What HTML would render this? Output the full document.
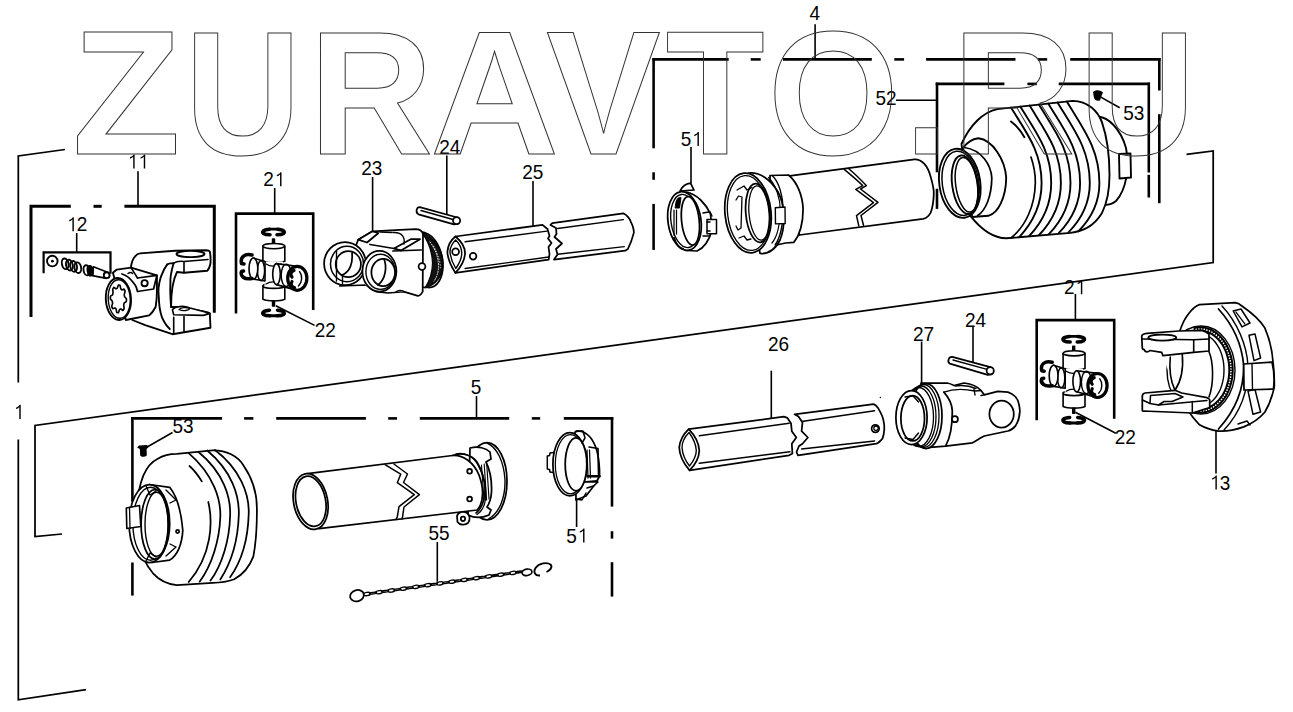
<!DOCTYPE html>
<html><head><meta charset="utf-8"><style>
html,body{margin:0;padding:0;background:#fff;width:1293px;height:712px;overflow:hidden}
svg{position:absolute;left:0;top:0;display:block}
.wm text{font-family:"Liberation Sans",sans-serif;font-weight:bold;font-size:176px;fill:none;stroke:#333;stroke-width:1}
.lb{font-family:"Liberation Sans",sans-serif;font-size:19px;fill:#000;text-anchor:start}
</style></head><body>
<svg width="1293" height="712" viewBox="0 0 1293 712">
<g fill="none" stroke="#000" stroke-width="1.75" stroke-linejoin="miter">
<polyline points="65,149.5 18.3,156 18.3,382.5"/>
<polyline points="18.3,439.5 18.3,699.8 86,689.7"/>
<polyline points="1186.5,154.4 1213.2,151 1213.2,262.6 35,425.5 35,536.5 62,534"/>
</g>
<g stroke="#000" stroke-width="2.6" fill="none" stroke-linecap="butt"><line x1="652.3" y1="59.4" x2="728.7" y2="59.4"/><line x1="750.7" y1="59.4" x2="760.7" y2="59.4"/><line x1="783.0" y1="59.4" x2="871.8" y2="59.4"/><line x1="894.3" y1="59.4" x2="904.1" y2="59.4"/><line x1="926.1" y1="59.4" x2="1015.5" y2="59.4"/><line x1="1037.8" y1="59.4" x2="1047.2" y2="59.4"/><line x1="1070.2" y1="59.4" x2="1160.6" y2="59.4"/><line x1="653.6" y1="58.1" x2="653.6" y2="148.3"/><line x1="653.6" y1="172.3" x2="653.6" y2="179.8"/><line x1="653.6" y1="203.9" x2="653.6" y2="249.9"/><line x1="1159.3" y1="58.1" x2="1159.3" y2="90.5"/><line x1="1159.3" y1="114.2" x2="1159.3" y2="203.2"/><line x1="935.7" y1="83.9" x2="1004.4" y2="83.9"/><line x1="1027.4" y1="83.9" x2="1036.8" y2="83.9"/><line x1="1058.7" y1="83.9" x2="1150.0" y2="83.9"/><line x1="937.0" y1="82.6" x2="937.0" y2="172.3"/><line x1="937.0" y1="188.7" x2="937.0" y2="208.9"/><line x1="1148.8" y1="82.6" x2="1148.8" y2="172.5"/><line x1="1148.8" y1="174.8" x2="1148.8" y2="197.5"/><line x1="131.1" y1="418.4" x2="222.1" y2="418.4"/><line x1="244.1" y1="418.4" x2="253.4" y2="418.4"/><line x1="276.2" y1="418.4" x2="365.9" y2="418.4"/><line x1="388.2" y1="418.4" x2="397.0" y2="418.4"/><line x1="419.8" y1="418.4" x2="509.2" y2="418.4"/><line x1="531.8" y1="418.4" x2="540.2" y2="418.4"/><line x1="563.8" y1="418.4" x2="613.3" y2="418.4"/><line x1="132.4" y1="417.1" x2="132.4" y2="501.6"/><line x1="132.4" y1="562.5" x2="132.4" y2="595.6"/><line x1="612.0" y1="417.1" x2="612.0" y2="506.6"/><line x1="612.0" y1="531.2" x2="612.0" y2="538.6"/><line x1="612.0" y1="562.2" x2="612.0" y2="596.6"/></g><g stroke="#000" fill="none" stroke-linejoin="miter">
<polyline stroke-width="3" points="31,317 31,206.3 70.8,206.3"/>
<line stroke-width="3" x1="93.5" y1="206.3" x2="101.7" y2="206.3"/>
<polyline stroke-width="3" points="124.4,206.3 214.3,206.3 214.3,312.7"/>
<polyline stroke-width="2.2" points="43.6,273.3 43.6,252.4 110.5,252.4 110.5,273.8"/>
<polyline stroke-width="2.6" points="236,313.6 236,213.6 313.2,213.6 313.2,310"/>
<polyline stroke-width="2.6" points="1036.7,420.3 1036.7,320.1 1114.2,320.1 1114.2,418.7"/>
</g>
<g stroke="#000" stroke-width="1.6" fill="none">
<line x1="815.1" y1="24.2" x2="815.1" y2="59.4"/>
<line x1="476.5" y1="396" x2="476.5" y2="418.4"/>
<line x1="138" y1="171.3" x2="138" y2="206.3"/>
<line x1="76.7" y1="233" x2="76.7" y2="252.3"/>
<line x1="274.7" y1="188" x2="274.7" y2="213.6"/>
<line x1="275.8" y1="305.7" x2="314.6" y2="325.4"/>
<line x1="1075.4" y1="294" x2="1075.4" y2="320.1"/>
<line x1="1075.4" y1="412.2" x2="1115.8" y2="433.2"/>
<line x1="372.6" y1="177" x2="372.6" y2="237"/>
<line x1="446.8" y1="155.5" x2="446.8" y2="214.2"/>
<line x1="973" y1="326.5" x2="973" y2="363.7"/>
<line x1="533" y1="181" x2="533" y2="229"/>
<line x1="771.3" y1="370.7" x2="771.3" y2="423.3"/>
<line x1="921.6" y1="341.5" x2="921.6" y2="388"/>
<line x1="691" y1="147" x2="691" y2="183.6"/>
<line x1="576.6" y1="498.2" x2="576.6" y2="527"/>
<line x1="896" y1="100.3" x2="937" y2="100.3"/>
<line x1="1119.7" y1="107.7" x2="1100.4" y2="96.9"/>
<line x1="172.5" y1="432.5" x2="148" y2="446.5"/>
<line x1="437.3" y1="542" x2="437.3" y2="581.8"/>
<line x1="1216" y1="425.1" x2="1216" y2="473.6"/>
</g>
<g id="p12" fill="#fff" stroke="#000" stroke-width="1.9" stroke-linejoin="round" stroke-linecap="round">
<circle cx="52.3" cy="261.1" r="5.3"/>
<circle cx="52.4" cy="261.2" r="1.4" fill="#000" stroke="none"/>

<ellipse cx="65.2" cy="263.8" rx="3.3" ry="5.4" fill="none" transform="rotate(-12 65.2 263.8)"/><ellipse cx="69.4" cy="265.1" rx="3.3" ry="5.4" fill="none" transform="rotate(-12 69.4 265.1)"/><ellipse cx="73.6" cy="266.4" rx="3.3" ry="5.4" fill="none" transform="rotate(-12 73.6 266.4)"/><ellipse cx="77.8" cy="267.7" rx="3.3" ry="5.4" fill="none" transform="rotate(-12 77.8 267.7)"/>
<path d="M93.4,266.8 L107.5,272.2 L106.4,278.4 L92.4,275.6 Z" stroke-width="1.7"/>
<ellipse cx="86.6" cy="270.3" rx="3" ry="5.1" transform="rotate(-10 86.6 270.3)"/>
<ellipse cx="90.2" cy="270.8" rx="2.6" ry="4.9" fill="#000" transform="rotate(-10 90.2 270.8)"/>
<circle cx="106.7" cy="275.2" r="2.9"/>
</g>
<g id="p11" fill="#fff" stroke="#000" stroke-width="1.88" stroke-linejoin="round" stroke-linecap="round">
<!-- yoke body silhouette -->
<path d="M131,266.3 C132,261 133.5,258 134.9,256.6 C136.5,254.5 138,253.5 140,253.4 L175,250.8 L206,250.2 C208,250.3 209.5,251 209.8,251.5 C210.5,255 210.7,259 210.5,263.1 C210,266 209,269 207.2,270.8 L184,272.8 L177,272 C174,278 171,290 171.1,307 L177.5,307 L203.4,311.5 C206,312 208.5,312.5 209.8,313.5 L210.5,327.7 L172.4,334.2 L145.2,325.1 L132.3,320 Z"/>
<ellipse cx="190.5" cy="254" rx="14" ry="3.1"/>
<path d="M173.7,263.1 C176,261.5 180,261 184,261.5 L208,259.5 M184,261.5 L184,272.8" fill="none" stroke-width="1.62"/>
<path d="M167.2,264.4 C163,270 161,277 160.7,277.3 C158.5,285 158,292 158.8,296.7 C159,305 160,312 162,317.4 C164,322 166.5,326 169.8,329" fill="none"/>
<path d="M167.2,264.4 C169,263 171,263 173.7,263.1 C171,272 170,278 170.4,283.8 C170,292 170.5,300 171.1,307" fill="none"/>
<!-- lower arm -->
<path d="M172.4,309.6 C174,308 176,307.2 177.5,307 C181,306 186,306.3 190,308 L203.4,311.5 L209.8,313.5 L203.4,315.4 L173.7,314.8 Z" stroke-width="1.62"/>
<path d="M179,309.5 C181,307.5 186,307 190,308.5 C189,310.5 183,311.5 179,309.5 Z" stroke-width="1.38"/>
<path d="M173.7,317.4 L173.7,332.9 M184,316.5 L184,331.6" fill="none" stroke-width="1.62"/>
<!-- hub -->
<path d="M112.9,272.8 L116.8,269.6 L131,267.6 L156.9,275.4 L156.9,291.5 C157,300 156,304 155.6,307 C153,312 151,314 149.1,315.4 L125.8,320 Z"/>
<!-- boss -->
<path d="M137.5,278 L156.9,275.4 L153.6,289 L137.5,291.5 C136.5,287 135.5,285 134.2,283.8 C130,278 126,275 122,274" stroke-width="1.75"/>
<path d="M131,267.6 L137.5,278" fill="none" stroke-width="1.62"/>
<path d="M128,273.5 C130,272 131.5,272 132.5,273.5" fill="none" stroke-width="1.50"/>
<circle cx="144.6" cy="283.2" r="3.1"/>
<!-- face -->
<ellipse cx="118.4" cy="299" rx="12.6" ry="21" transform="rotate(-3 118.4 299)"/>
<ellipse cx="119.2" cy="299" rx="11" ry="19.3" fill="none" stroke-width="1.38" transform="rotate(-3 119.2 299)"/>
<path d="M118.4,285.0 L120.0,285.3 L120.8,288.9 L121.9,289.9 L124.1,289.1 L125.1,291.2 L124.2,294.8 L124.6,296.8 L126.5,298.9 L126.3,301.6 L124.2,303.0 L123.7,304.9 L124.1,308.7 L122.9,310.5 L120.8,308.9 L119.6,309.5 L118.4,312.8 L116.8,312.5 L116.0,308.9 L114.9,307.9 L112.7,308.7 L111.7,306.6 L112.6,303.0 L112.2,301.0 L110.3,298.9 L110.5,296.2 L112.6,294.8 L113.1,292.9 L112.7,289.1 L113.9,287.3 L116.0,288.9 L117.2,288.3 Z" stroke-width="1.62"/>
</g>
<g id="p21a" fill="#fff" stroke="#000" stroke-width="1.62" stroke-linejoin="round" stroke-linecap="round">
<!-- top circlip -->
<path d="M269.5,229.2 C263,229.6 261.5,232 263.5,233.5 C265,234.5 267.5,234.8 270,234.8 M277.5,229.2 C284,229.6 285.5,232 283.5,233.5 C282,234.5 279.5,234.8 277,234.8" fill="none" stroke-width="3.50"/>
<path d="M269.5,229.2 L277.5,229.2" fill="none" stroke-width="2.70"/>
<!-- nipple -->
<path d="M272.6,239 L274.4,239 L274.4,244 L272.6,244 Z" fill="#000"/>
<!-- vertical caps -->
<path d="M262.9,246 L262.9,261.3 C268,263 280,263 284.8,261.3 L284.8,246 Z"/>
<ellipse cx="273.8" cy="246.1" rx="10.9" ry="2.6"/>
<path d="M262.9,286 L262.9,299.3 C268,301.5 280,301.5 284.8,299.3 L284.8,286 C280,288 268,288 262.9,286 Z"/>
<ellipse cx="273.8" cy="286" rx="10.9" ry="2.4"/>
<!-- center body -->
<path d="M264.5,261.5 L283,261.5 L283,285.5 L264.5,285.5 Z" stroke="none"/>
<path d="M266,264 C270,266.5 276,266.5 281,264 M266,284 C270,281.5 276,281.5 281,284" fill="none" stroke-width="1.3"/>
<!-- left cup -->
<path d="M253.2,258 L265,261.5 L265,281 L253.6,279.2 Z"/>
<ellipse cx="261" cy="270.7" rx="3.6" ry="9.9" fill="none" stroke-width="1.5"/>
<ellipse cx="253.4" cy="268.6" rx="4.4" ry="10.6"/>
<path d="M272.6,301 L274.4,301 L274.4,306 L272.6,306 Z" fill="#000"/>
<!-- right arm (front) -->
<path d="M276.5,263.6 L297,266.2 L297,290.4 L276.5,284.6 Z"/>
<ellipse cx="276.5" cy="274.1" rx="3.8" ry="10.5"/>
<ellipse cx="286.2" cy="275.3" rx="5" ry="11.2" fill="none" stroke-width="1.4"/>
<!-- left circlip (C) -->
<path d="M252,255 C245,253 240,257 241.5,263.5 L244,264 M243.5,271 L241.5,271.5 C240,276 244,280 252,278.5" fill="none" stroke-width="3.50"/>
<!-- right end ring + clip -->
<ellipse cx="297.3" cy="278.3" rx="9.6" ry="12" stroke-width="3.2"/>
<path d="M294,270.5 C290.8,271.5 290,275 292,277 M292,281.5 C290.5,284 291.5,287 294.5,287.5" fill="none" stroke-width="3.2"/>
<path d="M299.5,271.5 C302.5,275.5 302.5,282 298.5,286" fill="none" stroke-width="1.4"/>
<!-- bottom circlip -->
<path d="M269.5,310.2 C263,310.6 261.5,313 263.5,314.5 C265,315.5 267.5,315.8 270,315.8 M277.5,310.2 C284,310.6 285.5,313 283.5,314.5 C282,315.5 279.5,315.8 277,315.8" fill="none" stroke-width="3.50"/>
<path d="M269.5,315.8 L277.5,315.8" fill="none" stroke-width="2.90"/>
</g>
<g id="p23" fill="#fff" stroke="#000" stroke-width="1.75" stroke-linejoin="round" stroke-linecap="round">
<!-- collar (threaded) -->
<path d="M418,232 C432,231 441,245 442.8,262 C444,278 437,288 428,287.5 L420,287 Z"/>
<path d="M421,232 C433,236 443,250 443,263 C443,276 436,285 425,288 C430,280 432.5,272 432.5,263 C432,250 428,240 421,232 Z" fill="#111" stroke-width="1.2"/>
<path d="M430,242 C436,250 438.5,258 438.5,266 C438.5,272 437,277 434,281" fill="none" stroke="#fff" stroke-width="0.9" stroke-dasharray="1 1.6"/>
<path d="M433.5,246 C438,254 440.5,262 440.3,268" fill="none" stroke="#fff" stroke-width="0.7" stroke-dasharray="0.8 2"/>
<!-- body -->
<path d="M358.2,239.7 L372.5,231.3 L400,229.8 L415.5,229.2 C420,229.2 422,231 423,234 L422.7,291.6 C421,294.5 419,296 417.9,295.8 L403.6,291.6 L388,293 L376.1,291.6 L366,285 L340,286 Z"/>
<!-- back ear -->
<ellipse cx="345" cy="263.6" rx="20.9" ry="21.5"/>
<ellipse cx="347" cy="264" rx="16.5" ry="17.8" fill="none" stroke-width="1.50"/>
<ellipse cx="348.3" cy="264.2" rx="12.6" ry="13" />
<path d="M352,253 C353,263 350,272 342,275" fill="none"/>
<path d="M336.5,251.5 L336.5,281 M342.5,275 L342.5,283.5" fill="none" stroke-width="1.38"/>
<!-- top faces -->
<path d="M358.2,239.7 L372.5,231.3 L378.5,233 L367,242.5 Z"/>
<path d="M394,248.5 L410.7,239.2 L420,239.2 L401,250.5 Z"/>
<path d="M370,244.5 L394,248.5 L401,250.5" fill="none"/>
<path d="M393,232.5 C403,232 405,238 404,244" fill="none" stroke-width="1.38"/>
<path d="M380,232 L392,232.5" fill="none" stroke-width="1.38"/>
<!-- front ear -->
<path d="M366,258 C372,252 382,250 393,251 L403,252 L403,291.6 L376.1,291.6 C366,289 361,282 362.5,270 Z" fill="#fff" stroke="none"/>
<ellipse cx="379.4" cy="271.3" rx="17" ry="20.3"/>
<ellipse cx="380.5" cy="271.8" rx="14.6" ry="17.6" fill="none" stroke-width="1.38"/>
<ellipse cx="383.2" cy="272.5" rx="11.8" ry="13.6"/>
<path d="M384,259 C387,266 386,279 378,285" fill="none"/>
<path d="M393,251 L421,250" fill="none"/>
<circle cx="422" cy="266.6" r="3.4"/>
<path d="M396,291.8 C398,290 402,290 405,292" fill="none" stroke-width="1.38"/>
</g>
<g id="p24a" fill="#fff" stroke="#000" stroke-width="1.75" stroke-linejoin="round" stroke-linecap="round">
<path d="M419.8,207.1 L455.5,217 C459.5,218 460.5,222.5 457.5,224 L454,224.3 L418.5,214.3 C415.5,213 416,207 419.8,207.1 Z"/>
<path d="M421,210.5 L453,219.5" fill="none" stroke-width="1.38"/>
<circle cx="456.6" cy="220.6" r="3.6"/>
</g>
<g id="p25" fill="#fff" stroke="#000" stroke-width="1.75" stroke-linejoin="round" stroke-linecap="round">
<path d="M455.4,236.5 L542.5,224.9 L547.5,229 L549.5,236 L548,238.5 L551.5,243 L548.5,247 L549.5,254 L548.7,259.6 L455.4,272.9 C451,266 447.5,259 447.4,251.6 C448,245 451,240 455.4,236.5 Z"/>
<path d="M455.4,236.5 C461,241 465,247 465.1,253.4 C464.5,262 460,268 455.4,272.9" fill="none"/>
<path d="M455.6,240 C451.5,244 450,248 450,252 C450.5,258 453,264 455.8,268.5 C459,264 461.7,259 461.8,253 C461.5,247.5 459,243 455.6,240 Z" fill="none" stroke-width="1.38"/>
<circle cx="455.6" cy="251.8" r="3.4"/>
<circle cx="473.1" cy="256.2" r="3.3"/>
<path d="M465.1,241.8 L547,231.1 M465.1,268.5 L548.7,257" fill="none" stroke-width="1.38"/>
<path d="M550.5,224.9 L552.3,223.1 L623.4,213.3 C627,215 630,219 630.6,221.3 C633,226 634,230 633.8,232.9 C632,240 630,245 627.9,248.9 L625.2,250.7 L554,259.6 L557.5,254.5 L556,249 L562,243.5 L554.5,237 L556.5,234 L556,228 Z"/>
<path d="M557.6,228.5 L623.4,219.6 M557.6,254.3 L624.3,246.6" fill="none" stroke-width="1.38"/>

</g>
<g id="p4tube" fill="#fff" stroke="#000" stroke-width="1.75" stroke-linejoin="round" stroke-linecap="round">
<!-- tube -->
<path d="M786,176.3 L914.5,159.3 C922,159 928,166 930.7,177.1 C933,185 934,190 933.8,194.1 C933.5,202 932.5,208 930.7,212.6 C928.5,216.5 926,218.3 923,218.8 L799.4,235 Z"/>
<path d="M844.2,169.4 C851,175 857,180 862.7,185.6 L855.8,189.4 L873.5,202.6 L856.5,215.7 L858.8,225.8" fill="none" stroke-width="1.50"/>
<path d="M848.8,168.8 C855,174 861,180 866.3,185.6 L860.5,189 L878,202.4 L861,215.5 L863.5,225.2" fill="none" stroke-width="1.50"/>
<!-- collar -->
<path d="M770,175.5 L788.5,175 C797,182 802.5,195 803.1,209 C803,224 799,236 793.8,242.4 L785.5,243 L772,246 Z"/>
<!-- flange back -->
<path d="M748.4,173 C760,171.5 771,180 778,192 C785,205 786,225 780,240 C775,250 768,254 760,253.5 Z"/>
<path d="M772.4,175.7 C779,182 783,196 783.1,209 C783,226 780,238 775.1,245" fill="none" stroke-width="1.4"/>
<path d="M768.5,177.5 C776,185 780,198 780.3,209 C780,225 777,237 772,243" fill="none" stroke-width="1.2"/>
<path d="M775.3,207.7 L785,207 L785.2,223.5 L775.5,223.9 Z" stroke-width="1.4"/>
<!-- flange front -->
<ellipse cx="748" cy="213" rx="23" ry="40" transform="rotate(-6 748 213)"/>
<ellipse cx="748.4" cy="213" rx="20.8" ry="37.6" fill="none" stroke-width="1.3" transform="rotate(-6 748.4 213)"/>
<ellipse cx="757.8" cy="213" rx="12" ry="29.4" transform="rotate(-5 757.8 213)"/>
<ellipse cx="759" cy="213" rx="10" ry="27.2" fill="none" stroke-width="1.25" transform="rotate(-5 759 213)"/>
<path d="M737,190 L744,186 L747,190 L752,187.5 M736,200 L738.5,196 L742,197 L741,228 L738,230 L736,226 M739,238 L744,236 L747,240 L751,239" fill="none" stroke-width="1.3"/>
</g>
<g id="p51a" fill="#fff" stroke="#000" stroke-width="1.75" stroke-linejoin="round" stroke-linecap="round">
<path d="M680,191 C682,186 687,183 690.5,183.4 C692,185 692.5,188 694,190 Z"/>
<path d="M686,192 C697,194 706,204 710.5,214 L712,230 C709,241 704,248 697,251 L686,250.5 Z"/>
<rect x="707" y="219.5" width="9.5" height="14.2" stroke-width="1.50"/>
<path d="M710,222 L707,222 M710,231 L707,231" stroke-width="1.50"/>
<path d="M703,213 L710,211.7 L712,216 M703,236 L710,236" fill="none" stroke-width="1.38"/>
<ellipse cx="684.5" cy="221" rx="16.5" ry="29.5" transform="rotate(-8 684.5 221)"/>
<ellipse cx="685" cy="221" rx="14" ry="26.8" fill="none" stroke-width="1.38" transform="rotate(-8 685 221)"/>
<ellipse cx="690.4" cy="220.8" rx="8.8" ry="24.4" transform="rotate(-6 690.4 220.8)"/>
<path d="M676,202 C677,198 679,197 681,197.5 L679.5,208 L675.5,208 Z" fill="#000" stroke-width="1.00"/>
<path d="M674,210 L674,235 M676.5,210 L676.5,234" fill="none" stroke-width="1.25"/>
<path d="M674,238 C676,244 679,248 683,249" fill="none" stroke-width="2.10"/>
</g>
<g id="p52" fill="#fff" stroke="#000" stroke-width="1.88" stroke-linejoin="round" stroke-linecap="round">
<!-- back small ring -->
<path d="M1095,117 C1108,115 1121,130 1126,148 C1130,168 1126,190 1116,201 C1110,206 1100,206 1092,203 Z"/>
<path d="M1119,154 L1130.5,153.5 L1131,177.5 L1119.5,178.5 Z"/>
<!-- bellows envelope -->
<path d="M961.5,144 C970,125 983,112 997.4,109.1 L1072.6,100.9 C1080,101 1086,103 1091.6,107.6 C1097,112 1100,117 1102,122.4 C1107,137 1109.5,155 1109.5,175 C1109.5,190 1107,203 1102,212.9 C1097,221 1092,225 1087.4,227.6 C1082,230.5 1076,232 1070.5,232.9 L1006.4,238.3 C992,238 980,228 970.4,215.8 Z"/>
<path d="M1011.0,107.6 C1026.3,132.5 1041.6,151.3 1041.6,183.0 C1041.6,207.2 1030.5,225.0 1019.5,236.8" fill="none"/>
<path d="M1020.3,106.6 C1035.8,131.8 1051.2,150.9 1051.2,183.0 C1051.2,206.8 1040.3,224.3 1029.3,235.9" fill="none"/>
<path d="M1029.6,105.6 C1045.2,131.1 1060.9,150.5 1060.9,183.0 C1060.9,206.4 1050.0,223.6 1039.1,235.0" fill="none"/>
<path d="M1038.9,104.6 C1054.7,130.5 1070.5,150.1 1070.5,183.0 C1070.5,206.0 1059.7,222.9 1048.9,234.1" fill="none"/>
<path d="M1048.2,103.6 C1064.2,129.8 1080.1,149.7 1080.1,183.0 C1080.1,205.6 1069.4,222.2 1058.7,233.2" fill="none"/>
<path d="M1057.5,102.6 C1073.6,129.1 1089.8,149.2 1089.8,183.0 C1089.8,205.2 1079.1,221.5 1068.5,232.3" fill="none"/>
<path d="M1066.8,101.6 C1083.1,128.5 1099.4,148.8 1099.4,183.0 C1099.4,204.8 1088.8,220.8 1078.3,231.4" fill="none"/>
<path d="M1011,121.5 C1017,126 1021,131 1024.4,137.2" fill="none"/>
<path d="M1031,157 C1034,166 1035.5,175 1035.3,183 C1035,205 1026,226 1011,238" fill="none" stroke-width="1.7"/>

<!-- neck -->
<path d="M963,148 C968,141 973,139 978.3,138.3 C993,140 1005,160 1006.2,177.6 C1006,198 998,213 988.4,215.8 L972,217 Z"/>
<path d="M964.4,147.5 C982,150 991,165 991.8,178 C991.5,196 986,210 977.7,215.6" fill="none" stroke-width="1.75"/>
<!-- neck ring -->
<ellipse cx="959.8" cy="183.3" rx="20.5" ry="34.8" transform="rotate(-8 959.8 183.3)"/>
<ellipse cx="960.6" cy="183.3" rx="18.3" ry="32.3" fill="none" stroke-width="1.50" transform="rotate(-8 960.6 183.3)"/>
<ellipse cx="965" cy="184.7" rx="12.8" ry="29.5" transform="rotate(-8 965 184.7)"/>
<ellipse cx="966.5" cy="184.7" rx="10.8" ry="27.5" fill="none" stroke-width="1.50" transform="rotate(-8 966.5 184.7)"/>
</g>
<g id="p53a">
<path d="M1093,92 C1096,89.5 1100,90 1103,92.5 L1101.5,96 L1100,100.5 C1097,101.5 1094.5,100 1094,98 Z" fill="#000"/>
</g>
<g id="p5boot" fill="#fff" stroke="#000" stroke-width="1.75" stroke-linejoin="round" stroke-linecap="round">
<path d="M143.4,475.4 C147,467 151,462 157.8,458.7 C163,455.5 170,454 176.9,453.9 L212.7,450.3 C226,450 238,456 243.7,465.8 C252,478 257,493 256.9,508.8 C257,527 256,543 253.3,556.6 C249,568 242,575 234.2,579.3 C227,582 220,582.8 212.7,582.8 L176.9,585.2 C167,584 159,580 153,573.3 C146,565 141,555 138.7,542.2 C136.5,530 136,520 136.7,508.8 C137.5,495 140,484 143.4,475.4 Z"/>
<path d="M188.7,453.1 C214,475 221,500 220.3,517 C219.5,540 212,565 199.6,581.7" fill="none"/>
<path d="M198.5,452 C224,473 231,498 230.1,516 C229.5,540 222,565 210.5,580.6" fill="none"/>
<path d="M207.2,450.5 C232,471 239.5,496 238.8,515 C238,540 231,563 220.3,579.5" fill="none"/>
<path d="M215,450 C240,469 249.5,494 248.7,514 C248,539 241,562 230.1,577.3" fill="none"/>
<path d="M189.5,466 C194,470 198,475 201.8,481.4" fill="none"/>
<path d="M208.3,502 C213,522 212,555 188.7,582" fill="none"/>
<!-- neck -->
<path d="M149.4,484.5 L169.7,487.3 C176,495 181,510 182.8,530.3 C182,545 177,556 169.7,560.1 L152,562.5 Z"/>
<path d="M166,490 L176,500 L170,503 M166,556 L176,547 L170,544" fill="none" stroke-width="1.38"/>
<ellipse cx="149.4" cy="523.5" rx="20.3" ry="39"/>
<ellipse cx="150.5" cy="523.7" rx="17.6" ry="36.5" fill="none" stroke-width="1.38"/>
<ellipse cx="154.8" cy="524.3" rx="13.7" ry="34.7"/>
<ellipse cx="156.5" cy="524.3" rx="11.5" ry="32" fill="none" stroke-width="1.38"/>
<path d="M146,486 L150,495 L156,491 M146,561 L150,553 L156,557" fill="none" stroke-width="1.38"/>
<path d="M126.3,508 L139.5,505.5 L140.8,526.5 L126.8,528.5 Z" stroke-width="1.62"/>
<path d="M129.5,507.5 L130,528" fill="none" stroke-width="1.3"/>
<circle cx="177.6" cy="531.5" r="1.6"/>
</g>
<path d="M137.1,447.6 L139,445.4 L147,445 L148.8,447 L146.6,449 L146.8,455.5 C145,457.3 141,457.3 140.2,455.5 L139.8,449 Z" fill="#000"/>
<g id="p5tube" fill="#fff" stroke="#000" stroke-width="1.75" stroke-linejoin="round" stroke-linecap="round">
<!-- flange -->
<ellipse cx="487" cy="481.3" rx="20" ry="38.6"/>
<path d="M487,443 C497,447 504,462 505,480 C505.5,498 499,513 489,518.5" fill="none" stroke-width="1.38"/>
<path d="M470,448 C478,446 486,448 490,452 L491,459 L486,462 C490,470 492,480 491.5,492 C491,499 489,504 487,507 L491,510 L489,515 C482,518 474,518 468,515 Z"/>
<path d="M481.5,465 L484,500 M484.2,464 L486.6,500 M486.8,465 L489,499" fill="none" stroke-width="1.12"/>
<!-- tube body -->
<path d="M305.4,473.9 L452.6,455.5 C464,455 474,463 479,475 C483,486 484,497 480,506 L477.3,510 L319,528.7 Z"/>
<path d="M452.6,455.5 C462,452 472,455 477,462 C483,472 486,485 484.5,496 C483,505 480,510 476,513" fill="none" stroke-width="1.62"/>
<path d="M456,454 C465,452 474,457 478,465 C484,476 486.5,488 485.5,499 C484.5,507 481,512 477,514.5" fill="none" stroke-width="1.38"/>
<circle cx="469.6" cy="471.2" r="2.4"/>
<circle cx="469.6" cy="498.9" r="2.4"/>
<path d="M385.4,464.9 L400.7,474.2 L397.3,482.7 L414.3,494.7 L399,506.6 L397.3,516.8 L396,519.5" fill="none" stroke-width="1.50"/>
<path d="M393.9,464 L407.5,474 L403.5,482.5 L419.4,494.7 L404,507 L402.4,517.6 L402,518.8" fill="none" stroke-width="1.50"/>
<!-- lug -->
<path d="M457,516 C458,512 463,511 467,513 C470,515 470.5,520 468,523 C465,525.5 459.5,525 457.5,522 Z"/>
<circle cx="463" cy="518.8" r="2.2"/>
<!-- open end -->
<ellipse cx="310.6" cy="501.5" rx="17" ry="28.2" transform="rotate(-11 310.6 501.5)"/>
<ellipse cx="310.8" cy="501.3" rx="14.8" ry="25.4" transform="rotate(-11 310.8 501.3)"/>
</g>
<g id="p51b" fill="#fff" stroke="#000" stroke-width="1.75" stroke-linejoin="round" stroke-linecap="round">
<path d="M575,432 C580,430 586,433 590,437 C596,444 599,456 599.5,470 L599.5,476 L596,483 L586,496 L576,500 Z"/>
<path d="M589,447 L598,448.5 L598.5,475" fill="none" stroke-width="1.62"/>
<path d="M588,476.2 L599.5,476.2" stroke-width="2.6"/>
<path d="M586,482 L597,481" stroke-width="2.2"/>
<path d="M585.5,482 L598,482 L593.5,486 L587,488" stroke-width="1.50"/>
<path d="M553.5,452.5 L550,453 L549.5,455.5 L547.3,456 L547.3,469 L549.5,469.5 L550,472 L553.5,472.5" stroke-width="1.5"/>
<ellipse cx="569.9" cy="464.2" rx="17" ry="31.6"/>
<ellipse cx="570.5" cy="464.2" rx="15.2" ry="29.6" fill="none" stroke-width="1.25"/>
<ellipse cx="576" cy="464.3" rx="10.8" ry="26.5"/>
<path d="M576,431 L583,431 L585,438 L582,443 M576,499 L582,500 L586,493" fill="none" stroke-width="1.50"/>
<path d="M587,450 L588,478 M589.5,450 L590.5,478" fill="none" stroke-width="1.25"/>
</g>
<g id="p55" fill="none" stroke="#000" stroke-width="1.38">
<ellipse cx="367.0" cy="594.0" rx="3.6" ry="1.6" transform="rotate(-8.2 367.0 594.0)"/>
<ellipse cx="373.1" cy="593.1" rx="3.6" ry="0.8" transform="rotate(-8.2 373.1 593.1)"/>
<ellipse cx="379.2" cy="592.2" rx="3.6" ry="1.6" transform="rotate(-8.2 379.2 592.2)"/>
<ellipse cx="385.3" cy="591.3" rx="3.6" ry="0.8" transform="rotate(-8.2 385.3 591.3)"/>
<ellipse cx="391.3" cy="590.5" rx="3.6" ry="1.6" transform="rotate(-8.2 391.3 590.5)"/>
<ellipse cx="397.4" cy="589.6" rx="3.6" ry="0.8" transform="rotate(-8.2 397.4 589.6)"/>
<ellipse cx="403.5" cy="588.7" rx="3.6" ry="1.6" transform="rotate(-8.2 403.5 588.7)"/>
<ellipse cx="409.6" cy="587.8" rx="3.6" ry="0.8" transform="rotate(-8.2 409.6 587.8)"/>
<ellipse cx="415.7" cy="586.9" rx="3.6" ry="1.6" transform="rotate(-8.2 415.7 586.9)"/>
<ellipse cx="421.7" cy="586.1" rx="3.6" ry="0.8" transform="rotate(-8.2 421.7 586.1)"/>
<ellipse cx="427.8" cy="585.2" rx="3.6" ry="1.6" transform="rotate(-8.2 427.8 585.2)"/>
<ellipse cx="433.9" cy="584.3" rx="3.6" ry="0.8" transform="rotate(-8.2 433.9 584.3)"/>
<ellipse cx="440.0" cy="583.4" rx="3.6" ry="1.6" transform="rotate(-8.2 440.0 583.4)"/>
<ellipse cx="446.0" cy="582.6" rx="3.6" ry="0.8" transform="rotate(-8.2 446.0 582.6)"/>
<ellipse cx="452.1" cy="581.7" rx="3.6" ry="1.6" transform="rotate(-8.2 452.1 581.7)"/>
<ellipse cx="458.2" cy="580.8" rx="3.6" ry="0.8" transform="rotate(-8.2 458.2 580.8)"/>
<ellipse cx="464.3" cy="579.9" rx="3.6" ry="1.6" transform="rotate(-8.2 464.3 579.9)"/>
<ellipse cx="470.3" cy="579.1" rx="3.6" ry="0.8" transform="rotate(-8.2 470.3 579.1)"/>
<ellipse cx="476.4" cy="578.2" rx="3.6" ry="1.6" transform="rotate(-8.2 476.4 578.2)"/>
<ellipse cx="482.5" cy="577.3" rx="3.6" ry="0.8" transform="rotate(-8.2 482.5 577.3)"/>
<ellipse cx="488.6" cy="576.4" rx="3.6" ry="1.6" transform="rotate(-8.2 488.6 576.4)"/>
<ellipse cx="494.7" cy="575.5" rx="3.6" ry="0.8" transform="rotate(-8.2 494.7 575.5)"/>
<ellipse cx="500.7" cy="574.7" rx="3.6" ry="1.6" transform="rotate(-8.2 500.7 574.7)"/>
<ellipse cx="506.8" cy="573.8" rx="3.6" ry="0.8" transform="rotate(-8.2 506.8 573.8)"/>
<ellipse cx="512.9" cy="572.9" rx="3.6" ry="1.6" transform="rotate(-8.2 512.9 572.9)"/>
<ellipse cx="519.0" cy="572.0" rx="3.6" ry="0.8" transform="rotate(-8.2 519.0 572.0)"/>
<ellipse cx="357" cy="595.7" rx="7" ry="5.6" transform="rotate(-15 357 595.7)" stroke-width="1.75"/>
<ellipse cx="527" cy="572.3" rx="5" ry="3.2" transform="rotate(-10 527 572.3)" stroke-width="1.62"/>
<path d="M540,575.5 C535,576 533,572 535.5,568 C539,563 547,562 550.5,564.5 C553,567 550,570.5 546.5,572" stroke-width="1.88"/>
</g>
<g id="p26" fill="#fff" stroke="#000" stroke-width="1.75" stroke-linejoin="round" stroke-linecap="round">
<path d="M688.7,429.1 L783.8,416.7 L787.4,417.9 L791,423.2 L791.8,431.2 L796.3,437.5 L791.8,443.7 L792.4,453.5 L789.2,455.3 L689.6,470.4 C684,464 679.5,456 679.2,447.3 C680,440 683.5,434 688.7,429.1 Z"/>
<path d="M688.7,429.1 C694.5,435 699,442 699.3,450.8 C699,458 695,465 689.6,470.4" fill="none"/>
<path d="M689,432.5 C684.5,437 682,442 682,447.5 C682.5,454 685.5,461 689.5,466 C693.5,461 696.3,456 696.3,450.5 C696,444 693,438 689,432.5 Z" fill="none" stroke-width="1.38"/>
<path d="M699.3,435.7 L789.2,423.2 M699.3,463.3 L790,451.7" fill="none" stroke-width="1.38"/>
<path d="M794.5,414.3 L873.7,404.2 C876,405 877,406.5 878.1,408.1 C881,413 883,417 883.5,420.6 C884.3,424 884.5,427 884.3,429.5 C884,433 883.5,436 882.6,438.4 C880.5,441 878.5,443 876.3,443.7 L798,455.3 L796.5,452 L799,446 L802.5,443.7 L807.9,437.5 L801.6,431.2 L802.5,422.4 L798.5,416.5 Z"/>
<path d="M801.6,421.5 L874.6,410.8 M801.6,449 L874.6,441" fill="none" stroke-width="1.38"/>
<circle cx="875.4" cy="428.6" r="3.8"/>
<circle cx="876" cy="428.3" r="2.2" fill="none" stroke-width="1.25"/>
<circle cx="880.4" cy="397.5" r="0.8" fill="#000" stroke="none"/>
</g>
<g id="p24b" fill="#fff" stroke="#000" stroke-width="1.75" stroke-linejoin="round" stroke-linecap="round">
<path d="M952.3,356.8 L989.4,366.8 C993.5,368 994.5,373 991.5,374.5 L987.7,374.8 L949.8,363.6 C947,362 948.5,356.5 952.3,356.8 Z"/>
<path d="M953,360 L987,369.3" fill="none" stroke-width="1.38"/>
<circle cx="990.2" cy="370.7" r="3.6"/>
</g>
<g id="p27" fill="#fff" stroke="#000" stroke-width="1.75" stroke-linejoin="round" stroke-linecap="round">
<!-- body + ear -->
<path d="M921,383 L947.3,383 C950,383.5 952,384.5 954,385.5 L964.1,383 C972,384 978,387 981,390.5 L984.3,394.8 L997.8,391.4 L1007.9,392.2 C1014,394 1018,399 1018.9,404 C1020,409 1020,413 1019.7,412.4 C1019.5,418 1018,422 1015.5,425.9 C1013,429 1010,430.5 1007.9,431 L984.3,436 C980,438 976,441 972.5,442.8 L945.6,446.1 L923.7,447.8 Z"/>
<ellipse cx="1001.6" cy="414.1" rx="12.2" ry="13.5"/>
<path d="M943.9,392.2 C949,398 952,405 952.3,410.8 C952.5,425 950,438 945.6,446.1" fill="none"/>
<path d="M943.9,392.2 C955,388 965,389 975,391 L981,390.5" fill="none" stroke-width="1.38"/>
<path d="M955,386 C962,385 970,386 976,388.5 M974,389 L975,395 M984.3,394.8 L981,395.5" fill="none" stroke-width="1.38"/>
<circle cx="954.9" cy="419.2" r="3"/>
<!-- threaded collar -->
<ellipse cx="926" cy="416" rx="16" ry="32.5"/>
<ellipse cx="923.5" cy="416" rx="15.5" ry="31.5" fill="none" stroke-width="1.3"/>
<ellipse cx="921" cy="416.5" rx="15" ry="30.5" fill="none" stroke-width="1.3"/>
<ellipse cx="918.5" cy="417" rx="15" ry="29.5" fill="none" stroke-width="1.3"/>
<!-- front ring -->
<ellipse cx="911.5" cy="417.5" rx="15.6" ry="27"/>
<ellipse cx="912.7" cy="418.3" rx="11.8" ry="22.7"/>
<path d="M905,397 L913,395.8 L918.5,402 M905,438 L913,439.5 L918.5,433" fill="none" stroke-width="1.38"/>
</g>
<use href="#p21a" transform="translate(800.2,107.2)"/>
<g id="p13" fill="#fff" stroke="#000" stroke-width="1.75" stroke-linejoin="round" stroke-linecap="round">
<!-- guard ring silhouette -->
<path d="M1189,313.2 C1194,307 1197,305.5 1199.5,304.7 L1235.3,302.6 C1238,303 1240,304 1241.6,305.8 C1252,313 1260,320 1264.8,327.9 C1270,340 1272.5,352 1273.2,363.7 C1274,372 1274.5,380 1274.3,386.9 C1272,398 1268.5,406 1264.8,412.2 C1258,420 1251,424 1243.7,426.9 C1235,430 1226,431.5 1218.5,431.1 C1211,430 1205,428 1199.5,424.8 C1191,416 1184,406 1180.5,395.3 C1178,385 1177,374 1177.4,363.7 C1177.5,352 1178,342 1179.5,332.1 C1182,324 1185,318 1189,313.2 Z"/>
<path d="M1218.5,309 C1233,325 1242,345 1243.7,365.8 C1244,390 1234,412 1218.5,429" fill="none"/>
<path d="M1222,306 C1237,322 1247,345 1248,366 C1248.5,392 1239,414 1224,430" fill="none" stroke-width="1.38"/>
<path d="M1233.2,311 L1241,309 L1250,323 L1242,326.9 Z" stroke-width="1.50"/>
<path d="M1236,312 L1245,324" fill="none" stroke-width="1.25"/>
<path d="M1249,335.3 L1255,334 L1260.6,358 L1254,360.6 Z" stroke-width="1.50"/>
<path d="M1248,391 L1255,389.5 L1260.6,412 L1253,414.3 Z" stroke-width="1.50"/>
<path d="M1238,424 L1247,421 L1250,425" fill="none" stroke-width="1.38"/>
<path d="M1243.7,364 L1272,362 C1274,370 1274.5,380 1273.5,389 L1244,390 Z"/>
<path d="M1252,363.5 L1252.5,389.5" fill="none" stroke-width="1.38"/>
<!-- bearing ring -->
<ellipse cx="1201" cy="370" rx="34" ry="44" fill="#fff" stroke-width="1.4"/>
<path d="M1196.2,329.3 L1198.8,329.0 L1201.5,329.0 L1204.1,329.4 L1206.7,330.0 L1209.2,330.8 L1211.7,332.0 L1214.0,333.5 L1216.3,335.2 L1218.5,337.1 L1220.5,339.3 L1222.4,341.7 L1224.2,344.3 L1225.7,347.1 L1227.1,350.1 L1228.3,353.2 L1229.2,356.4 L1230.0,359.7 L1230.6,363.1 L1230.9,366.5 L1231.0,370.0 L1230.9,373.5 L1230.6,376.9 L1230.0,380.3 L1229.2,383.6 L1228.3,386.8 L1227.1,389.9 L1225.7,392.9 L1224.2,395.7 L1222.4,398.3 L1220.5,400.7 L1218.5,402.9 L1216.3,404.8 L1214.0,406.5 L1211.7,408.0 L1209.2,409.2 L1206.7,410.0 L1204.1,410.6 L1201.5,411.0 L1198.8,411.0 L1196.2,410.7" fill="none" stroke-width="5.4"/>
<path d="M1196.2,329.3 L1198.8,329.0 L1201.5,329.0 L1204.1,329.4 L1206.7,330.0 L1209.2,330.8 L1211.7,332.0 L1214.0,333.5 L1216.3,335.2 L1218.5,337.1 L1220.5,339.3 L1222.4,341.7 L1224.2,344.3 L1225.7,347.1 L1227.1,350.1 L1228.3,353.2 L1229.2,356.4 L1230.0,359.7 L1230.6,363.1 L1230.9,366.5 L1231.0,370.0 L1230.9,373.5 L1230.6,376.9 L1230.0,380.3 L1229.2,383.6 L1228.3,386.8 L1227.1,389.9 L1225.7,392.9 L1224.2,395.7 L1222.4,398.3 L1220.5,400.7 L1218.5,402.9 L1216.3,404.8 L1214.0,406.5 L1211.7,408.0 L1209.2,409.2 L1206.7,410.0 L1204.1,410.6 L1201.5,411.0 L1198.8,411.0 L1196.2,410.7" fill="none" stroke="#fff" stroke-width="1.7" stroke-linecap="round" stroke-dasharray="0.01 2.7"/>
<path d="M1197.9,334.1 L1199.9,334.0 L1201.9,334.1 L1203.9,334.5 L1205.8,335.1 L1207.7,335.9 L1209.6,337.0 L1211.4,338.3 L1213.1,339.8 L1214.7,341.5 L1216.2,343.5 L1217.6,345.6 L1218.9,347.8 L1220.1,350.3 L1221.1,352.8 L1222.0,355.5 L1222.7,358.3 L1223.3,361.1 L1223.7,364.1 L1223.9,367.0 L1224.0,370.0 L1223.9,373.0 L1223.7,375.9 L1223.3,378.9 L1222.7,381.7 L1222.0,384.5 L1221.1,387.2 L1220.1,389.7 L1218.9,392.2 L1217.6,394.4 L1216.2,396.5 L1214.7,398.5 L1213.1,400.2 L1211.4,401.7 L1209.6,403.0 L1207.7,404.1 L1205.8,404.9 L1203.9,405.5 L1201.9,405.9 L1199.9,406.0 L1197.9,405.9" fill="none" stroke-width="1.4"/>
<!-- throat -->
<path d="M1163,355.7 L1209,351 C1213.5,362 1214,384 1209,397 L1175,390.3 C1170,380 1168,368 1163,355.7 Z" stroke="none"/>
<path d="M1170.3,357 C1169,370 1171,382 1175,390.3 M1182.3,354.3 C1183.5,368 1182,380 1175,390.3" fill="none" stroke-width="1.6"/>
<path d="M1209,351.7 C1213.5,362 1214,384 1209,397" fill="none" stroke-width="1.6"/>
<!-- top arm -->
<path d="M1141.7,336.3 C1142,334 1144,333.5 1147,333.3 L1179,331 L1201.7,330.3 C1205,331 1207.5,332.5 1209,334.3 L1209,351 L1193.7,352.3 L1175,354.3 L1163,355.7 C1162,353.5 1161.7,352.8 1161.7,352.3 L1150,350.5 C1148,352.5 1145,352.5 1144.3,349.7 C1143,349.5 1142.3,348.8 1142.3,347.7 Z"/>
<path d="M1142.2,339 L1193.7,339.7 L1209,339 M1193.7,339.7 L1193.7,352.3" fill="none" stroke-width="1.6"/>
<ellipse cx="1162.3" cy="337.6" rx="14" ry="3"/>
<!-- lower arm -->
<path d="M1145,393 L1175,390.3 L1181.7,393 L1207,397.7 C1209,398.5 1210,400 1209.7,401 L1209.7,407.7 L1192.3,413 L1143,411 C1142.5,411 1142.3,410.5 1142.3,410.3 L1142.3,396 C1142.5,394 1143.5,393.2 1145,393 Z"/>
<path d="M1150.5,395.5 L1175,393.5 L1183,397 L1172,401.5 L1164,401.5 L1158.5,405 L1150,403.5 Z" stroke-width="1.5"/>
<path d="M1158.5,405 L1207,400.5 M1192.3,401.5 L1192.3,413 M1142.5,400 L1150,403.5" fill="none" stroke-width="1.5"/>
</g>
<g class="lb"><path d="M0.405,0 L0.405,0.716 L0.35,0.716 C0.31,0.65 0.24,0.6 0.16,0.57 L0.16,0.5 C0.22,0.52 0.29,0.56 0.33,0.6 L0.33,0 Z" transform="translate(13.02,419.00) scale(19.000,-19.760)" fill="#000"/><text transform="translate(809.62,20.20) scale(1,1.04)">4</text><text transform="translate(470.82,394.00) scale(1,1.04)">5</text><path d="M0.405,0 L0.405,0.716 L0.35,0.716 C0.31,0.65 0.24,0.6 0.16,0.57 L0.16,0.5 C0.22,0.52 0.29,0.56 0.33,0.6 L0.33,0 Z" transform="translate(126.94,168.60) scale(19.000,-19.760)" fill="#000"/><path d="M0.405,0 L0.405,0.716 L0.35,0.716 C0.31,0.65 0.24,0.6 0.16,0.57 L0.16,0.5 C0.22,0.52 0.29,0.56 0.33,0.6 L0.33,0 Z" transform="translate(137.50,168.60) scale(19.000,-19.760)" fill="#000"/><path d="M0.405,0 L0.405,0.716 L0.35,0.716 C0.31,0.65 0.24,0.6 0.16,0.57 L0.16,0.5 C0.22,0.52 0.29,0.56 0.33,0.6 L0.33,0 Z" transform="translate(66.14,231.30) scale(19.000,-19.760)" fill="#000"/><text transform="translate(76.70,231.30) scale(1,1.04)">2</text><path d="M0.405,0 L0.405,0.716 L0.35,0.716 C0.31,0.65 0.24,0.6 0.16,0.57 L0.16,0.5 C0.22,0.52 0.29,0.56 0.33,0.6 L0.33,0 Z" transform="translate(1209.14,489.60) scale(19.000,-19.760)" fill="#000"/><text transform="translate(1219.70,489.60) scale(1,1.04)">3</text><text transform="translate(263.24,186.30) scale(1,1.04)">2</text><path d="M0.405,0 L0.405,0.716 L0.35,0.716 C0.31,0.65 0.24,0.6 0.16,0.57 L0.16,0.5 C0.22,0.52 0.29,0.56 0.33,0.6 L0.33,0 Z" transform="translate(273.80,186.30) scale(19.000,-19.760)" fill="#000"/><text transform="translate(1064.04,294.20) scale(1,1.04)">2</text><path d="M0.405,0 L0.405,0.716 L0.35,0.716 C0.31,0.65 0.24,0.6 0.16,0.57 L0.16,0.5 C0.22,0.52 0.29,0.56 0.33,0.6 L0.33,0 Z" transform="translate(1074.60,294.20) scale(19.000,-19.760)" fill="#000"/><text transform="translate(314.74,336.50) scale(1,1.04)">2</text><text transform="translate(325.30,336.50) scale(1,1.04)">2</text><text transform="translate(1114.64,444.40) scale(1,1.04)">2</text><text transform="translate(1125.20,444.40) scale(1,1.04)">2</text><text transform="translate(361.24,175.00) scale(1,1.04)">2</text><text transform="translate(371.80,175.00) scale(1,1.04)">3</text><text transform="translate(439.24,154.00) scale(1,1.04)">2</text><text transform="translate(449.80,154.00) scale(1,1.04)">4</text><text transform="translate(964.94,326.60) scale(1,1.04)">2</text><text transform="translate(975.50,326.60) scale(1,1.04)">4</text><text transform="translate(522.14,178.90) scale(1,1.04)">2</text><text transform="translate(532.70,178.90) scale(1,1.04)">5</text><text transform="translate(767.94,351.10) scale(1,1.04)">2</text><text transform="translate(778.50,351.10) scale(1,1.04)">6</text><text transform="translate(913.04,341.30) scale(1,1.04)">2</text><text transform="translate(923.60,341.30) scale(1,1.04)">7</text><text transform="translate(680.64,146.10) scale(1,1.04)">5</text><path d="M0.405,0 L0.405,0.716 L0.35,0.716 C0.31,0.65 0.24,0.6 0.16,0.57 L0.16,0.5 C0.22,0.52 0.29,0.56 0.33,0.6 L0.33,0 Z" transform="translate(691.20,146.10) scale(19.000,-19.760)" fill="#000"/><text transform="translate(566.24,542.60) scale(1,1.04)">5</text><path d="M0.405,0 L0.405,0.716 L0.35,0.716 C0.31,0.65 0.24,0.6 0.16,0.57 L0.16,0.5 C0.22,0.52 0.29,0.56 0.33,0.6 L0.33,0 Z" transform="translate(576.80,542.60) scale(19.000,-19.760)" fill="#000"/><text transform="translate(875.44,104.60) scale(1,1.04)">5</text><text transform="translate(886.00,104.60) scale(1,1.04)">2</text><text transform="translate(1123.14,119.50) scale(1,1.04)">5</text><text transform="translate(1133.70,119.50) scale(1,1.04)">3</text><text transform="translate(172.54,433.00) scale(1,1.04)">5</text><text transform="translate(183.10,433.00) scale(1,1.04)">3</text><text transform="translate(428.44,540.20) scale(1,1.04)">5</text><text transform="translate(439.00,540.20) scale(1,1.04)">5</text></g><g class="wm">
<text vector-effect="non-scaling-stroke" transform="translate(72.2,153.6) scale(1.008,1)">Z</text>
<text vector-effect="non-scaling-stroke" transform="translate(184.9,153.6) scale(0.911,1)">U</text>
<text vector-effect="non-scaling-stroke" transform="translate(309.0,153.6) scale(0.976,1)">R</text>
<text vector-effect="non-scaling-stroke" transform="translate(430.0,153.6) scale(1.016,1)">A</text>
<text vector-effect="non-scaling-stroke" transform="translate(546.3,153.6) scale(0.974,1)">V</text>
<text vector-effect="non-scaling-stroke" transform="translate(665.7,153.6) scale(0.920,1)">T</text>
<text vector-effect="non-scaling-stroke" transform="translate(767.9,153.6) scale(0.955,1)">O</text>
<text vector-effect="non-scaling-stroke" transform="translate(904.9,153.6) scale(0.886,1)">.</text>
<text vector-effect="non-scaling-stroke" transform="translate(952.4,153.6) scale(0.966,1)">R</text>
<text vector-effect="non-scaling-stroke" transform="translate(1079.5,153.6) scale(0.910,1)">U</text>
</g>
</svg>
</body></html>
